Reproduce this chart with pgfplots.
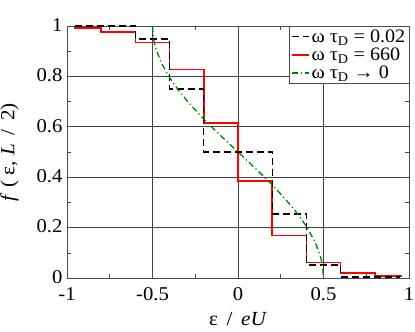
\documentclass[border=0pt]{standalone}
\usepackage{fontspec}
\setmainfont{Liberation Serif}[FakeStretch=1.06]
\usepackage{pgfplots}
\pgfplotsset{compat=1.18}
\begin{document}
\begin{tikzpicture}
\useasboundingbox (-67pt,-54pt) rectangle (348pt,278pt);
\begin{axis}[
  scale only axis, width=342pt, height=252pt,
  at={(0,0)}, anchor=south west,
  xmin=-1, xmax=1, ymin=0, ymax=1,
  xtick={-1,-0.5,0,0.5,1}, xticklabels={-1,-0.5,0,0.5,1},
  ytick={0,0.2,0.4,0.6,0.8,1}, yticklabels={0,0.2,0.4,0.6,0.8,1},
  minor x tick num=1, minor y tick num=1,
  grid=major, major grid style={black!75, line width=0.6pt},
  axis line style={black!70, line width=0.8pt},
  tick style={black!70, line width=0.6pt},
  major tick length=6pt, minor tick length=4pt,
  tick label style={font=\fontsize{19.5}{19.5}\selectfont},
  xticklabel style={yshift=-6pt},
  yticklabel style={xshift=-1pt, yshift=1pt},
  label style={font=\fontsize{20}{20}\selectfont},
  xlabel={ε \,/\, \textit{eU}}, ylabel={\textit{f} ( ε, \textit{L} \,/\, 2)},
  xlabel style={at={(axis description cs:0.5,0)}, anchor=base, yshift=-47pt},
  ylabel style={at={(axis description cs:-0.168,0.5)}, anchor=center},
  legend style={at={(1,1)}, anchor=north east, draw=black!70,
    font=\fontsize{19}{23.5}\selectfont, inner sep=1.5pt},
  legend cell align=left,
]
\addplot[red, line width=1.6pt, const plot, forget plot] coordinates {
  (-0.96,0.992) (-0.8,0.976) (-0.6,0.935) (-0.4,0.827) (-0.2,0.614)
  (0,0.385) (0.2,0.168) (0.4,0.061) (0.6,0.019) (0.8,0.008) (0.957,0.008)};
\addplot[black, line width=1.3pt, dash pattern=on 7pt off 4pt, const plot, forget plot] coordinates {
  (-0.955,1.0) (-0.6,0.948) (-0.4,0.75) (-0.2,0.5) (0,0.5) (0.2,0.254)
  (0.4,0.052) (0.6,0.004) (0.95,0.004)};
\addplot[green!50!black, line width=1.3pt, dash pattern=on 6pt off 3pt on 1.2pt off 3pt, forget plot] coordinates {
  (-0.5,1.0) (-0.495,0.955) (-0.49,0.936) (-0.48,0.910) (-0.45,0.856)
  (-0.4,0.795) (-0.35,0.747) (-0.3,0.705) (-0.25,0.667) (-0.2,0.631)
  (-0.15,0.597) (-0.1,0.564) (-0.05,0.532) (0,0.5) (0.05,0.468)
  (0.1,0.436) (0.15,0.403) (0.2,0.369) (0.25,0.333) (0.3,0.295)
  (0.35,0.253) (0.4,0.205) (0.45,0.144) (0.48,0.090) (0.49,0.064)
  (0.495,0.045) (0.5,0.0)};
\addlegendimage{black, line width=1.3pt, dash pattern=on 7pt off 4pt}
\addlegendentry{ω τ\textsubscript{D} = 0.02}
\addlegendimage{red, line width=1.6pt}
\addlegendentry{ω τ\textsubscript{D} = 660}
\addlegendimage{green!50!black, line width=1.3pt, dash pattern=on 6pt off 3pt on 1.2pt off 3pt}
\addlegendentry{ω τ\textsubscript{D} → 0}
\end{axis}
\end{tikzpicture}
\end{document}
